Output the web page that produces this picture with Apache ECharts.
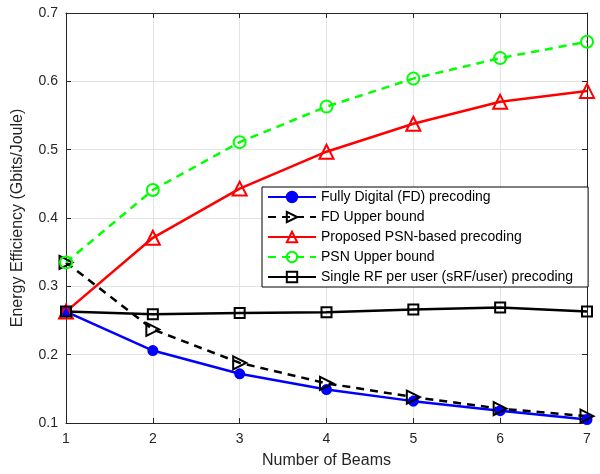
<!DOCTYPE html>
<html>
<head>
<meta charset="utf-8">
<script src="https://cdn.jsdelivr.net/npm/echarts@6/dist/echarts.min.js"></script>
<style>
  html, body { margin: 0; padding: 0; background: #fff; }
  #chart { width: 600px; height: 474px; }
</style>
</head>
<body>
<div id="chart"></div>
<script>
// number of beams
const beams = [1, 2, 3, 4, 5, 6, 7]

// energy efficiency values (Gbits/Joule)
const fdPrecoding = [0.263, 0.206, 0.172, 0.149, 0.132, 0.118, 0.105]
const fdUpperBound = [0.335, 0.237, 0.188, 0.158, 0.138, 0.121, 0.110]
const psnPrecoding = [0.263, 0.371, 0.443, 0.497, 0.538, 0.570, 0.586]
const psnUpperBound = [0.335, 0.441, 0.511, 0.563, 0.604, 0.634, 0.658]
const srfPrecoding = [0.263, 0.259, 0.261, 0.262, 0.266, 0.269, 0.263]

const yTicks = [0.1, 0.2, 0.3, 0.4, 0.5, 0.6, 0.7]

const font = 'Liberation Sans, Arial, Helvetica, sans-serif'
const chart = echarts.init(document.getElementById('chart'))

function pairs(vals) {
  return beams.map((b, i) => [b, vals[i]])
}

function mkSeries(name, vals, color, dashed, symbol, size, filled, rotate) {
  return {
    name,
    type: 'line',
    data: pairs(vals),
    symbol,
    symbolSize: size,
    symbolRotate: rotate || 0,
    showAllSymbol: true,
    lineStyle: { color, width: 2.5, type: dashed ? [8, 6] : 'solid' },
    itemStyle: {
      color: filled ? color : 'rgba(255,255,255,0)',
      borderColor: color,
      borderWidth: 2
    },
    emphasis: { disabled: true },
    z: 3
  }
}

const gridLine = { show: true, lineStyle: { color: '#e3e3e3', width: 1 } }

chart.setOption({
  animation: false,
  backgroundColor: '#fff',
  grid: { left: 66, right: 13, top: 13, bottom: 49 },
  legend: {
    orient: 'vertical',
    left: 262,
    top: 187,
    backgroundColor: '#fff',
    borderColor: '#000',
    borderWidth: 1,
    borderRadius: 0,
    padding: [3, 15, 3, 5],
    itemWidth: 48,
    itemHeight: 13,
    itemGap: 6,
    textStyle: { fontFamily: font, fontSize: 14, color: '#000' },
    data: [
      'Fully Digital (FD) precoding',
      'FD Upper bound',
      'Proposed PSN-based precoding',
      'PSN Upper bound',
      'Single RF per user (sRF/user) precoding'
    ]
  },
  xAxis: [{
    type: 'value',
    min: 1,
    max: 7,
    interval: 1,
    name: 'Number of Beams',
    nameLocation: 'middle',
    nameGap: 30,
    nameTextStyle: { fontFamily: font, fontSize: 16, color: '#262626' },
    axisLine: { lineStyle: { color: '#262626', width: 1 } },
    axisTick: { inside: true, length: 5, lineStyle: { color: '#262626' } },
    axisLabel: { fontFamily: font, fontSize: 14, color: '#262626', margin: 9 },
    splitLine: gridLine
  }, {
    type: 'value',
    position: 'top',
    min: 1,
    max: 7,
    interval: 1,
    axisLine: { show: true, lineStyle: { color: '#262626', width: 1 } },
    axisTick: { show: true, inside: true, length: 5, lineStyle: { color: '#262626' } },
    axisLabel: { show: false },
    splitLine: { show: false }
  }],
  yAxis: [{
    type: 'value',
    min: 0.1,
    max: 0.7,
    interval: 0.1,
    name: 'Energy Efficiency (Gbits/Joule)',
    nameLocation: 'middle',
    nameGap: 40,
    nameTextStyle: { fontFamily: font, fontSize: 16, color: '#262626' },
    axisLine: { show: true, lineStyle: { color: '#262626', width: 1 } },
    axisTick: { show: true, inside: true, length: 5, lineStyle: { color: '#262626' } },
    axisLabel: {
      fontFamily: font, fontSize: 14, color: '#262626', margin: 8,
      formatter: v => {
        const t = yTicks.find(y => Math.abs(y - v) < 1e-6)
        return t === undefined ? '' : String(t)
      }
    },
    splitLine: gridLine
  }, {
    type: 'value',
    position: 'right',
    min: 0.1,
    max: 0.7,
    interval: 0.1,
    axisLine: { show: true, lineStyle: { color: '#262626', width: 1 } },
    axisTick: { show: true, inside: true, length: 5, lineStyle: { color: '#262626' } },
    axisLabel: { show: false },
    splitLine: { show: false }
  }],
  series: [
    mkSeries('Fully Digital (FD) precoding', fdPrecoding, '#0000ff', false, 'circle', 9, true),
    mkSeries('FD Upper bound', fdUpperBound, '#000000', true, 'triangle', 13, false, -90),
    mkSeries('Proposed PSN-based precoding', psnPrecoding, '#ff0000', false, 'triangle', 14, false),
    mkSeries('PSN Upper bound', psnUpperBound, '#00ff00', true, 'circle', 12, false),
    mkSeries('Single RF per user (sRF/user) precoding', srfPrecoding, '#000000', false, 'rect', 10, false)
  ]
})
</script>
</body>
</html>
